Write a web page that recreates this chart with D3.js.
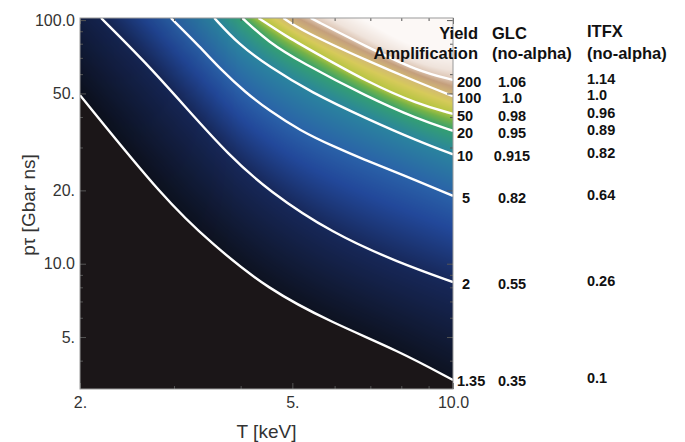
<!DOCTYPE html>
<html>
<head>
<meta charset="utf-8">
<script src="https://cdn.jsdelivr.net/npm/d3@7"></script>
<style>
  body { margin: 0; background: #fff; }
  svg { display: block; font-family: "Liberation Sans", Arial, Helvetica, sans-serif; }
</style>
</head>
<body>
<div id="chart"></div>
<script>
// yield amplification levels and the two tables on the right
const levels = [1.35, 2, 5, 10, 20, 50, 100, 200];
const levelLabels = ["1.35", "2", "5", "10", "20", "50", "100", "200"];
const glcValues = ["0.35", "0.55", "0.82", "0.915", "0.95", "0.98", "1.0", "1.06"];
const itfxValues = ["0.1", "0.26", "0.64", "0.82", "0.89", "0.96", "1.0", "1.14"];

// contour lines: [T keV, p*tau Gbar ns]
const contour1_35 = [[2.00, 49.2], [2.89, 18.2], [3.53, 12.1], [4.49, 7.87], [5.95, 5.71], [7.92, 4.38], [10, 3.33]];
const contour2 = [[2.19, 102], [2.65, 67.3], [3.19, 42.7], [3.79, 28.1], [4.51, 19.9], [5.95, 13.3], [7.92, 10.1], [10, 8.41]];
const contour5 = [[2.96, 102], [3.36, 77.4], [3.68, 62.4], [4.08, 50.6], [4.51, 42.7], [5.18, 35.1], [5.95, 30.4], [6.86, 26.6], [7.92, 23.5], [10, 19.0]];
const contour10 = [[3.57, 102], [3.96, 79.7], [4.51, 64.7], [5.41, 50.6], [6.92, 39.2], [8.59, 31.9], [10, 28.1]];
const contour20 = [[4.03, 102], [4.51, 81.2], [5.18, 67.3], [6.92, 48.3], [8.59, 39.2], [10, 35.1]];
const contour50 = [[4.32, 102], [4.86, 86.0], [5.41, 75.3], [6.92, 55.6], [8.59, 45.2], [10, 41.2]];
const contour100 = [[4.81, 102], [5.18, 91.0], [6.92, 67.9], [8.59, 55.6], [10, 48.7]];
const contour200 = [[5.41, 102], [6.92, 77.4], [8.59, 61.8], [10, 56.8]];
const contours = [contour1_35, contour2, contour5, contour10, contour20, contour50, contour100, contour200];

// axis ticks
const xMajor = [2, 5, 10];
const xLabels = ["2.", "5.", "10.0"];
const xMinor = [3, 4, 6, 7, 8, 9];
const yMajor = [5, 10, 20, 50, 100];
const yLabels = ["5.", "10.0", "20.", "50.", "100.0"];
const yMinor = [4, 6, 7, 8, 9, 30, 40, 60, 70, 80, 90];

const width = 685, height = 442;
const plot = { left: 80, right: 453, top: 18, bottom: 389 };
const fw = plot.right - plot.left, fh = plot.bottom - plot.top;

const x = d3.scaleLog().domain([2, 10]).range([plot.left, plot.right]);
const y = d3.scaleLog().domain([3.06, 102]).range([plot.bottom, plot.top]);

const svg = d3.select("#chart").append("svg")
    .attr("width", width)
    .attr("height", height);

svg.append("defs").append("clipPath")
    .attr("id", "plot-clip")
    .append("rect")
    .attr("x", plot.left).attr("y", plot.top)
    .attr("width", fw).attr("height", fh);

// colour field goes underneath, filled in after the contours are drawn
const field = svg.append("image")
    .attr("x", plot.left).attr("y", plot.top)
    .attr("width", fw).attr("height", fh)
    .attr("preserveAspectRatio", "none");

const line = d3.line()
    .x(d => x(d[0]))
    .y(d => y(d[1]))
    .curve(d3.curveBasis);

const contourG = svg.append("g").attr("clip-path", "url(#plot-clip)");
const paths = contours.map(c => contourG.append("path")
    .datum(c)
    .attr("d", line)
    .attr("fill", "none")
    .attr("stroke", "#fff")
    .attr("stroke-width", 2.4));

// sample each drawn contour per pixel column
const colY = paths.map(p => {
    const node = p.node();
    const len = node.getTotalLength();
    const pts = [];
    for (let s = 0; s <= len; s += 0.5) {
        const q = node.getPointAtLength(s);
        pts.push([q.x, q.y]);
    }
    const end = node.getPointAtLength(len);
    pts.push([end.x, end.y]);
    const a = pts[0];
    const b = pts.find(q => q[0] - a[0] >= 6) || pts[pts.length - 1];
    const slope = (b[1] - a[1]) / Math.max(1e-6, b[0] - a[0]);
    const out = new Float32Array(fw);
    let j = 0;
    for (let i = 0; i < fw; i++) {
        const cx = plot.left + i + 0.5;
        if (cx <= a[0]) { out[i] = a[1] - slope * (a[0] - cx); continue; }
        while (j < pts.length - 2 && pts[j + 1][0] < cx) j++;
        const p0 = pts[j], p1 = pts[j + 1];
        const t = p1[0] === p0[0] ? 0 : (cx - p0[0]) / (p1[0] - p0[0]);
        out[i] = p0[1] + Math.min(1, Math.max(0, t)) * (p1[1] - p0[1]);
    }
    return out;
});

// colour ramp on log(amplification)
const stopVals = [1.35, 2, 3.5, 5, 10, 20, 35, 50, 75, 100, 150, 200, 300, 700];
const stopColors = ["#0d1220", "#17285a", "#22489a", "#2a62a8", "#2a849e", "#34a070", "#74b248",
    "#b4c440", "#d6ca5a", "#d2b874", "#c49f7c", "#dcc4b2", "#efe3db", "#fcf8f6"];
const color = d3.scaleLinear()
    .domain(stopVals.map(Math.log10))
    .range(stopColors)
    .interpolate(d3.interpolateRgb)
    .clamp(true);
const lutN = 1024, lutMin = Math.log10(1.35), lutMax = Math.log10(700);
const lut = d3.range(lutN).map(i => d3.rgb(color(lutMin + (lutMax - lutMin) * i / (lutN - 1))));
const below = d3.rgb("#1b1618");
const logL = levels.map(Math.log10);
const nL = levels.length;

const canvas = document.createElement("canvas");
canvas.width = fw; canvas.height = fh;
const ctx = canvas.getContext("2d");
const img = ctx.createImageData(fw, fh);
for (let i = 0; i < fw; i++) {
    const ys = colY.map(a => a[i]);
    const dim = 1 - 0.15 * (1 - Math.min(1, i / 160));
    for (let j = 0; j < fh; j++) {
        const py = plot.top + j + 0.5;
        let c;
        if (py >= ys[0]) {
            c = below;
        } else {
            let lv = null;
            for (let k = 0; k < nL - 1; k++) {
                if (py >= ys[k + 1]) {
                    lv = logL[k] + (ys[k] - py) / (ys[k] - ys[k + 1]) * (logL[k + 1] - logL[k]);
                    break;
                }
            }
            if (lv === null) {
                const d = Math.max(5, ys[nL - 2] - ys[nL - 1]);
                lv = logL[nL - 1] + (ys[nL - 1] - py) / d * (logL[nL - 1] - logL[nL - 2]);
            }
            const idx = Math.round((lv - lutMin) / (lutMax - lutMin) * (lutN - 1));
            c = lut[Math.max(0, Math.min(lutN - 1, idx))];
        }
        const o = (j * fw + i) * 4;
        const f = c === below ? 1 : dim;
        img.data[o] = c.r * f;
        img.data[o + 1] = c.g * f;
        img.data[o + 2] = c.b * f;
        img.data[o + 3] = 255;
    }
}
ctx.putImageData(img, 0, 0);
field.attr("href", canvas.toDataURL());

// axes, ticks pointing inward
function styleAxis(g) {
    g.select(".domain").remove();
    g.selectAll(".tick line").attr("stroke", "#555");
    g.selectAll(".tick text").attr("fill", "#333").style("font-size", "16px");
}

svg.append("g")
    .attr("transform", `translate(${plot.left},0)`)
    .call(d3.axisLeft(y).tickValues(yMajor).tickFormat((d, i) => yLabels[i])
        .tickSizeInner(-6).tickSizeOuter(0).tickPadding(5))
    .call(styleAxis);
svg.append("g")
    .attr("transform", `translate(${plot.left},0)`)
    .call(d3.axisLeft(y).tickValues(yMinor).tickFormat("").tickSizeInner(-3).tickSizeOuter(0))
    .call(styleAxis);
svg.append("g")
    .attr("transform", `translate(${plot.right},0)`)
    .call(d3.axisRight(y).tickValues(yMajor).tickFormat("").tickSizeInner(-6).tickSizeOuter(0))
    .call(styleAxis);
svg.append("g")
    .attr("transform", `translate(${plot.right},0)`)
    .call(d3.axisRight(y).tickValues(yMinor).tickFormat("").tickSizeInner(-3).tickSizeOuter(0))
    .call(styleAxis);

svg.append("g")
    .attr("transform", `translate(0,${plot.bottom})`)
    .call(d3.axisBottom(x).tickValues(xMajor).tickFormat((d, i) => xLabels[i])
        .tickSizeInner(-6).tickSizeOuter(0).tickPadding(8))
    .call(styleAxis);
svg.append("g")
    .attr("transform", `translate(0,${plot.bottom})`)
    .call(d3.axisBottom(x).tickValues(xMinor).tickFormat("").tickSizeInner(-3).tickSizeOuter(0))
    .call(styleAxis);
svg.append("g")
    .attr("transform", `translate(0,${plot.top})`)
    .call(d3.axisTop(x).tickValues(xMajor).tickFormat("").tickSizeInner(-6).tickSizeOuter(0))
    .call(styleAxis);
svg.append("g")
    .attr("transform", `translate(0,${plot.top})`)
    .call(d3.axisTop(x).tickValues(xMinor).tickFormat("").tickSizeInner(-3).tickSizeOuter(0))
    .call(styleAxis);

svg.append("rect")
    .attr("x", plot.left).attr("y", plot.top)
    .attr("width", fw).attr("height", fh)
    .attr("fill", "none")
    .attr("stroke", "#9a9a9a")
    .attr("stroke-width", 1);

// axis titles
svg.append("text")
    .attr("x", (plot.left + plot.right) / 2)
    .attr("y", 438)
    .attr("text-anchor", "middle")
    .style("font-size", "19px")
    .attr("fill", "#333")
    .text("T [keV]");

svg.append("text")
    .attr("transform", "translate(35,205) rotate(-90)")
    .attr("text-anchor", "middle")
    .style("font-size", "19px")
    .attr("fill", "#333")
    .text("p\u03c4 [Gbar ns]");

// table on the right
const tbl = svg.append("g").style("font-weight", "bold").attr("fill", "#111");

const headers = [
    { text: "Yield", x: 478, y: 33, anchor: "end" },
    { text: "Amplification", x: 478, y: 53, anchor: "end" },
    { text: "GLC", x: 492, y: 33, anchor: "start" },
    { text: "(no-alpha)", x: 492, y: 53, anchor: "start" },
    { text: "ITFX", x: 587, y: 31, anchor: "start" },
    { text: "(no-alpha)", x: 587, y: 53, anchor: "start" }
];
tbl.selectAll("text.hdr")
    .data(headers)
    .enter()
    .append("text")
    .attr("class", "hdr")
    .attr("x", d => d.x)
    .attr("y", d => d.y)
    .attr("dy", "0.35em")
    .attr("text-anchor", d => d.anchor)
    .style("font-size", "16.5px")
    .text(d => d.text);

const rowY = contours.map(c => Math.min(y(c[c.length - 1][1]) + 2, 381));

tbl.selectAll("text.lvl")
    .data(levelLabels)
    .enter()
    .append("text")
    .attr("class", "lvl")
    .attr("x", d => d.length === 1 ? 462 : 457)
    .attr("y", (d, i) => rowY[i])
    .attr("dy", "0.35em")
    .style("font-size", "14.5px")
    .text(d => d);

tbl.selectAll("text.glc")
    .data(glcValues)
    .enter()
    .append("text")
    .attr("class", "glc")
    .attr("x", 512)
    .attr("y", (d, i) => rowY[i])
    .attr("dy", "0.35em")
    .attr("text-anchor", "middle")
    .style("font-size", "14.5px")
    .text(d => d);

tbl.selectAll("text.itfx")
    .data(itfxValues)
    .enter()
    .append("text")
    .attr("class", "itfx")
    .attr("x", 587)
    .attr("y", (d, i) => rowY[i] - 3)
    .attr("dy", "0.35em")
    .style("font-size", "14.5px")
    .text(d => d);
</script>
</body>
</html>
